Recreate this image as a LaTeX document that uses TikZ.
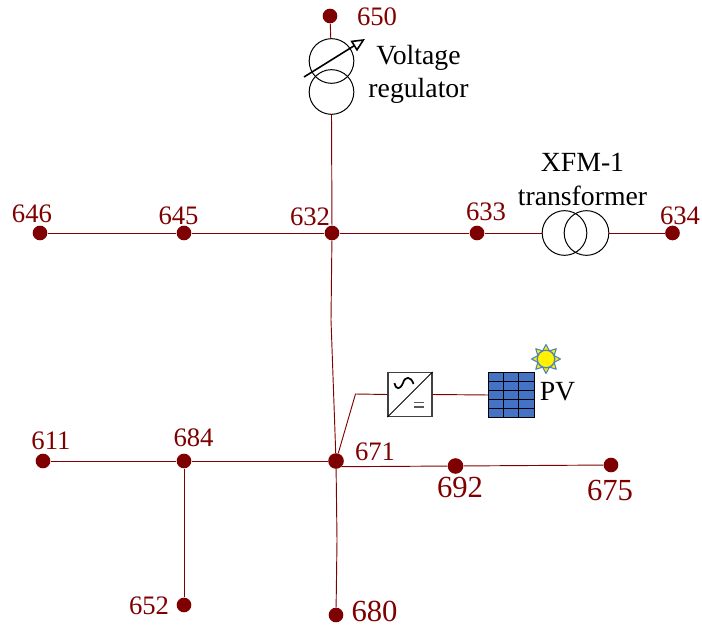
\documentclass[tikz,border=0pt]{standalone}
\usepackage{fontspec}
\usetikzlibrary{arrows.meta}
\setmainfont{Liberation Serif}
\definecolor{busred}{HTML}{7F0000}
\definecolor{pvblue}{HTML}{4472C4}
\definecolor{sunblue}{HTML}{4F81BD}
\newcommand{\fsz}[2]{\fontsize{#1}{#2}\selectfont}
\tikzset{
  bus/.style={circle,fill=busred,draw=none,minimum size=11.7pt,inner sep=0pt},
  smallbus/.style={bus,minimum size=11pt},
  wire/.style={draw=busred,line width=0.7pt},
  coil/.style={circle,draw=black,line width=0.75pt,minimum size=33.5pt,inner sep=0pt},
  lab/.style={text=busred,inner sep=0pt,font=\fsz{20}{20}},
  labbig/.style={text=busred,inner sep=0pt,font=\fsz{23}{23}},
  blk/.style={text=black,inner sep=0pt,font=\fsz{20.8}{24.8},align=center},
  device/.style={draw=black!75,line width=0.8pt,fill=white,minimum size=33pt,inner sep=0pt},
}
\begin{document}
\begin{tikzpicture}[x=0.75pt,y=-0.75pt]
\useasboundingbox (0,0) rectangle (702,630);
% buses
\node[smallbus] (n650) at (330,16) {};
\node[smallbus] (n646) at (40,233) {};
\node[smallbus] (n645) at (184,233) {};
\node[smallbus] (n632) at (332,233) {};
\node[smallbus] (n633) at (477,233) {};
\node[smallbus] (n634) at (672.5,233) {};
\node[smallbus] (n611) at (43,461) {};
\node[smallbus] (n684) at (184,461) {};
\node[bus] (n671) at (336,461) {};
\node[bus] (n692) at (455.5,466) {};
\node[smallbus] (n675) at (611,465) {};
\node[smallbus] (n652) at (184,605) {};
\node[smallbus] (n680) at (336,615) {};
% regulator and transformer
\node[coil] (regtop) at (331.5,61) {};
\node[coil] (regbot) at (331.5,92) {};
\node[coil] (xfa) at (564.5,233) {};
\node[coil] (xfb) at (586.5,233) {};
% inverter and PV
\node[device] (inv) at (410,394.5) {};
\node[minimum width=33.75pt,minimum height=33pt,inner sep=0pt] (pv) at (511.5,395) {};
\coordinate (bend) at (355.5,394);
\coordinate (bendA) at (331,320);
\coordinate (bendB) at (337,540);
% wires
\draw[wire] (n650) -- (regtop);
\draw[wire] (regbot.south) -- (n632);
\draw[wire] (n646) -- (n645);
\draw[wire] (n645) -- (n632);
\draw[wire] (n632) -- (n633);
\draw[wire] (n633) -- (xfa);
\draw[wire] (xfb) -- (n634);
\draw[wire] (n632) -- (bendA) -- (n671);
\draw[wire] (n671) -- (bendB) -- (n680);
\draw[wire] (n611) -- (n684);
\draw[wire] (n684) -- (n671);
\draw[wire] (n684) -- (n652);
\draw[wire] (n671.-45) -- (n692);
\draw[wire] (n692) -- (n675);
\draw[wire] (n671) -- (bend) -- (inv.west);
\draw[wire] (inv.east) -- (pv.west);
% regulator arrow
\draw[black,line width=1.2pt,-{Triangle[open,length=10pt,width=9pt]}] (304,77) -- (365,39);
% inverter symbol
\draw[black,line width=0.7pt] (inv.south west) -- (inv.north east);
\draw[black,line width=1.3pt] (394.5,383) .. controls (396,390) and (400,390) .. (403,383) .. controls (405,376) and (411,376) .. (413.5,384);
\draw[black!65,line width=1.2pt] (414,402.3) -- (424,402.3) (414,406.7) -- (424,406.7);
% PV panel
\fill[pvblue] (pv.north west) rectangle (pv.south east);
\draw[black,line width=0.7pt] (pv.north west) rectangle (pv.south east);
\foreach \x in {503.7,518.7} \draw[black,line width=0.7pt] (\x,373) -- (\x,417);
\foreach \y in {381.7,390.4,399.3,408.3} \draw[black,line width=0.7pt] (489,\y) -- (534,\y);
% sun
\foreach \a in {0,45,...,315}{
  \filldraw[draw=sunblue,fill=yellow,line width=0.8pt,line join=round,rotate around={\a:(546,359)}] (552,354.5) -- (560.5,359) -- (552,363.5) -- cycle;
}
\draw[sunblue,line width=1pt,fill=yellow] (546,359) circle[radius=8.8];
% labels
\node[lab] (l650) at (377,16.5) {650};
\node[lab] (l646) at (32,213.5) {646};
\node[lab] (l645) at (178.5,216) {645};
\node[lab] (l632) at (310,216.5) {632};
\node[lab] (l633) at (486,211.5) {633};
\node[lab] (l634) at (680,216) {634};
\node[lab] (l611) at (51,441) {611};
\node[lab] (l684) at (193.5,437.5) {684};
\node[lab] (l671) at (375,452) {671};
\node[labbig] (l692) at (460,487) {692};
\node[labbig] (l675) at (610,490.5) {675};
\node[lab] (l652) at (149,606) {652};
\node[labbig] (l680) at (374.5,611) {680};
\node[blk] (lvr) at (418.5,74) {Voltage\\regulator};
\node[blk] (lxf) at (582.5,179.5) {XFM-1\\transformer};
\node[blk] (lpv) at (557.5,392) {PV};
\end{tikzpicture}
\end{document}
